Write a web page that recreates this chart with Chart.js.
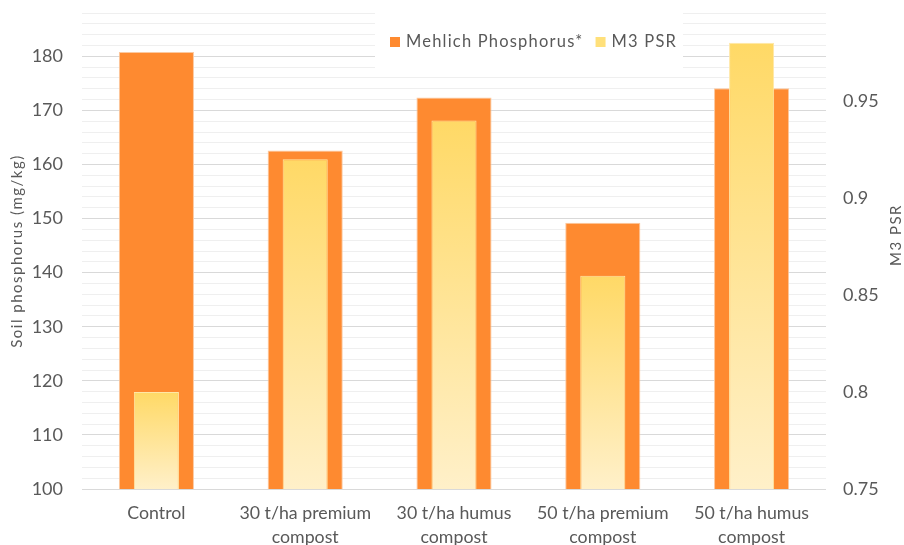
<!DOCTYPE html>
<html>
<head>
<meta charset="utf-8">
<script src="https://cdn.jsdelivr.net/npm/chart.js@4/dist/chart.umd.min.js"></script>
<style>
  html, body { margin: 0; padding: 0; background: #fff; }
  #wrap { width: 904px; height: 545px; }
</style>
</head>
<body>
<div id="wrap"><canvas id="phosphorusChart"></canvas></div>
<script>
const categories = [
    "Control",
    ["30 t/ha premium", "compost"],
    ["30 t/ha humus", "compost"],
    ["50 t/ha premium", "compost"],
    ["50 t/ha humus", "compost"]
];
const mehlichValues = [180.8, 162.6, 172.4, 149.2, 174.1];
const psrValues = [0.80, 0.920, 0.940, 0.860, 0.980];
const leftTicks = [100, 110, 120, 130, 140, 150, 160, 170, 180];
const rightTicks = [0.75, 0.8, 0.85, 0.9, 0.95];

const FONT = "Lato, 'Open Sans', sans-serif";
const GREY = "#595959";
const ORANGE = "#fe8a30";

// yellow bars fade from top of each bar down to the axis
function yellowFill(ctx) {
    const chart = ctx.chart;
    const area = chart.chartArea;
    if (!area || ctx.raw == null) return "#ffd966";
    const top = chart.scales.y2.getPixelForValue(ctx.raw);
    const g = chart.ctx.createLinearGradient(0, top, 0, area.bottom);
    g.addColorStop(0, "#ffd966");
    g.addColorStop(1, "#fff0c9");
    return g;
}

// fixed axis sizes, no overflow padding from the labels
function fixSize(w, h) {
    return s => {
        if (w) s.width = w;
        if (h) s.height = h;
        s.paddingTop = 0;
        s.paddingBottom = 0;
        s.paddingLeft = 0;
        s.paddingRight = 0;
    };
}

// legend box inside the plot + spaced-out axis titles
const extras = {
    id: "extras",
    beforeDatasetsDraw(chart) {
        const c = chart.ctx;
        const area = chart.chartArea;
        c.save();
        c.fillStyle = "#ffffff";
        c.fillRect(375, area.top, 308, 55);
        c.font = "16.5px " + FONT;
        c.letterSpacing = "1.2px";
        c.textBaseline = "middle";
        const items = [
            { text: "Mehlich Phosphorus*", color: ORANGE },
            { text: "M3 PSR", color: "#ffe07a" }
        ];
        let x = 390;
        const y = 42;
        items.forEach(it => {
            c.fillStyle = it.color;
            c.fillRect(x, y - 5, 10, 10);
            c.fillStyle = GREY;
            c.fillText(it.text, x + 16, y);
            x += 16 + c.measureText(it.text).width + 12;
        });
        c.restore();
    },
    afterDraw(chart) {
        const c = chart.ctx;
        const area = chart.chartArea;
        const titles = [
            { text: "Soil phosphorus (mg/kg)", x: 17, y: (area.top + area.bottom) / 2 },
            { text: "M3 PSR", x: 896, y: 235 }
        ];
        titles.forEach(t => {
            c.save();
            c.font = "15px " + FONT;
            c.letterSpacing = "1.5px";
            c.fillStyle = GREY;
            c.textAlign = "center";
            c.textBaseline = "middle";
            c.translate(t.x, t.y);
            c.rotate(-Math.PI / 2);
            c.fillText(t.text, 0, 0);
            c.restore();
        });
    }
};

new Chart(document.getElementById("phosphorusChart"), {
    type: "bar",
    data: {
        labels: categories,
        datasets: [
            {
                label: "Mehlich Phosphorus*",
                data: mehlichValues,
                yAxisID: "y",
                backgroundColor: ORANGE,
                borderColor: "#fcc9a0",
                borderWidth: 1,
                barPercentage: 0.505,
                categoryPercentage: 1,
                grouped: false,
                order: 2
            },
            {
                label: "M3 PSR",
                data: psrValues,
                yAxisID: "y2",
                backgroundColor: yellowFill,
                borderColor: "#ffe7a6",
                borderWidth: 1,
                barPercentage: 0.303,
                categoryPercentage: 1,
                grouped: false,
                order: 1
            }
        ]
    },
    options: {
        responsive: true,
        maintainAspectRatio: false,
        animation: false,
        layout: { padding: { top: 13, right: 0, left: 0, bottom: 0 } },
        plugins: {
            legend: { display: false },
            tooltip: { enabled: false }
        },
        scales: {
            x: {
                grid: { display: false, drawTicks: false },
                border: { display: false },
                afterFit: fixSize(0, 56),
                ticks: {
                    color: GREY,
                    font: { family: FONT, size: 17.75, lineHeight: "24px" },
                    padding: 12,
                    maxRotation: 0
                }
            },
            y: {
                position: "left",
                min: 100,
                max: 188,
                border: { display: false },
                afterFit: fixSize(82, 0),
                grid: {
                    color: c => (c.tick && c.tick.value % 10 === 0) ? "#d9d9d9" : "#efefef",
                    lineWidth: 1,
                    drawTicks: false
                },
                ticks: {
                    stepSize: 2,
                    autoSkip: false,
                    padding: 19,
                    color: GREY,
                    font: { family: FONT, size: 18 },
                    callback: v => leftTicks.includes(v) ? v : ""
                }
            },
            y2: {
                position: "right",
                min: 0.75,
                max: 0.9954,
                border: { display: false },
                grid: { display: false, drawTicks: false },
                afterFit: fixSize(78, 0),
                afterBuildTicks: axis => {
                    axis.ticks = rightTicks.map(v => ({ value: v }));
                },
                ticks: {
                    padding: 17,
                    color: GREY,
                    font: { family: FONT, size: 18 },
                    callback: v => String(+v.toFixed(2))
                }
            }
        }
    },
    plugins: [extras]
});
</script>
</body>
</html>
